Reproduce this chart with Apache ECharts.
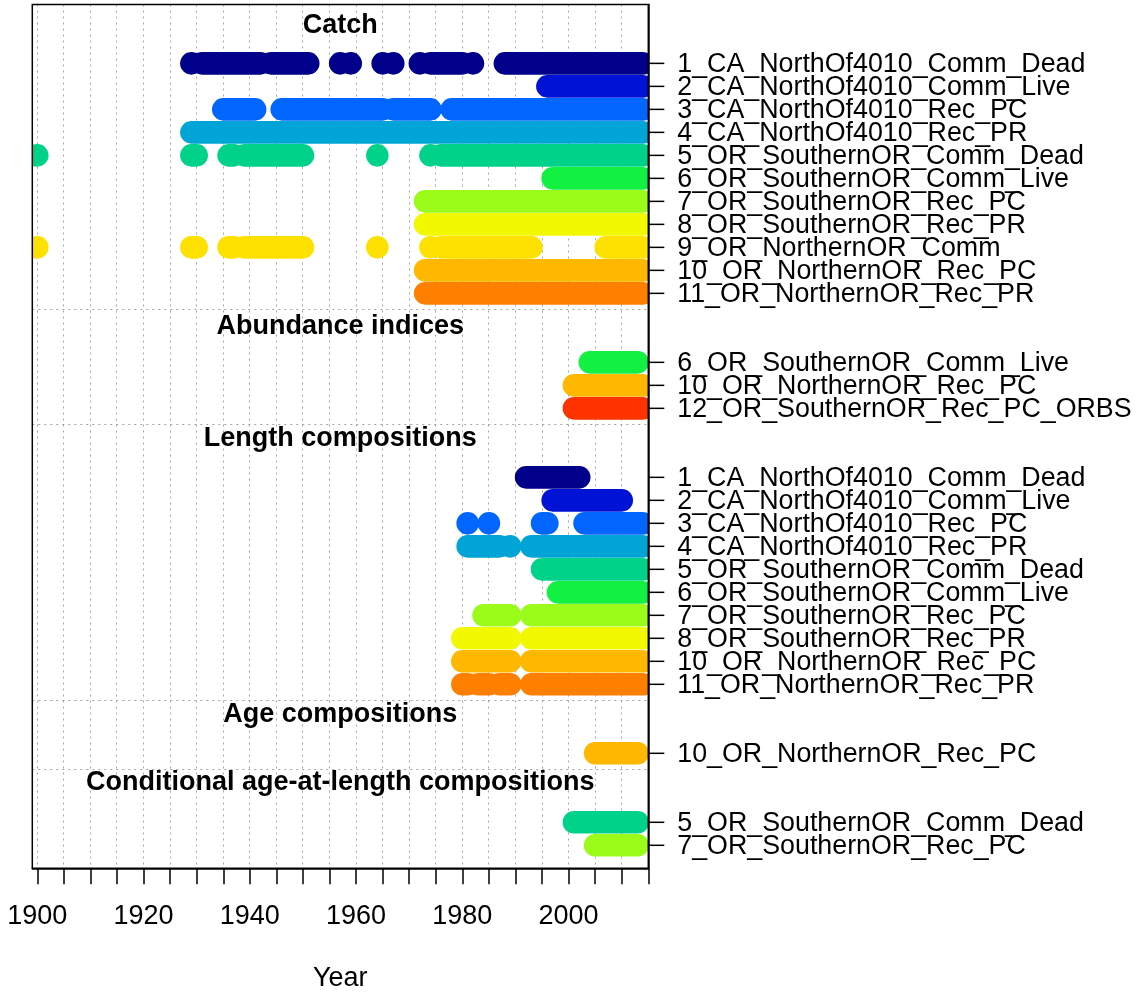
<!DOCTYPE html>
<html><head><meta charset="utf-8">
<script src="https://cdn.jsdelivr.net/npm/echarts@6/dist/echarts.min.js"></script>
<style>html,body{margin:0;padding:0;background:#fff;overflow:hidden}#c{width:1140px;height:995px}</style>
</head><body><div id="c"></div>
<script>
// ---------- data ----------
const fleetNames = ['1_CA_NorthOf4010_Comm_Dead','2_CA_NorthOf4010_Comm_Live','3_CA_NorthOf4010_Rec_PC',
  '4_CA_NorthOf4010_Rec_PR','5_OR_SouthernOR_Comm_Dead','6_OR_SouthernOR_Comm_Live','7_OR_SouthernOR_Rec_PC',
  '8_OR_SouthernOR_Rec_PR','9_OR_NorthernOR_Comm','10_OR_NorthernOR_Rec_PC','11_OR_NorthernOR_Rec_PR',
  '12_OR_SouthernOR_Rec_PC_ORBS'];
const fleetColors = ['#00008A','#0012D6','#0066FF','#00A4D6','#00D28A','#12F042','#9BFB19','#F2F800',
  '#FFE100','#FFB700','#FF8000','#FF3300'];

const groupNames = ['Catch','Abundance indices','Length compositions','Age compositions',
  'Conditional age-at-length compositions'];
const groupFleets = [
  [1,2,3,4,5,6,7,8,9,10,11],
  [6,10,12],
  [1,2,3,4,5,6,7,8,10,11],
  [10],
  [5,7]
];
// year ranges [first, last] with data, one list per fleet row
const catchYears = [
  [[1929,1929],[1931,1942],[1944,1951],[1957,1957],[1959,1959],[1965,1965],[1967,1967],[1972,1972],[1974,1980],[1982,1982],[1988,2014]],
  [[1996,2014]],
  [[1935,1941],[1946,1965],[1967,1974],[1978,2014]],
  [[1929,2014]],
  [[1900,1900],[1929,1930],[1936,1937],[1939,1950],[1964,1964],[1974,1974],[1976,2014]],
  [[1997,2014]],
  [[1973,2014]],
  [[1973,2014]],
  [[1900,1900],[1929,1930],[1936,1937],[1939,1950],[1964,1964],[1974,1974],[1976,1993],[2007,2014]],
  [[1973,2014]],
  [[1973,2014]]
];
const indexYears = [
  [[2004,2013]],
  [[2001,2014]],
  [[2001,2014]]
];
const lengthYears = [
  [[1992,2002]],
  [[1997,2010]],
  [[1981,1981],[1985,1985],[1995,1996],[2003,2014]],
  [[1981,1987],[1989,1989],[1993,2014]],
  [[1995,2014]],
  [[1998,2014]],
  [[1984,1989],[1993,2014]],
  [[1980,1989],[1993,2014]],
  [[1980,1989],[1993,2014]],
  [[1980,1981],[1983,1985],[1987,1989],[1993,2014]]
];
const ageYears = [
  [[2005,2013]]
];
const condYears = [
  [[2001,2013]],
  [[2005,2013]]
];
const groupYears = [catchYears, indexYears, lengthYears, ageYears, condYears];

const xTickYears = [1900,1905,1910,1915,1920,1925,1930,1935,1940,1945,1950,1955,1960,1965,1970,1975,1980,1985,1990,1995,2000,2005,2010,2015];
const xLabelYears = [1900,1920,1940,1960,1980,2000];

// ---------- layout of rows (axis values) ----------
const X_MIN = 1899.06, X_MAX = 2015, Y_MIN = 0, Y_MAX = 37.56;
const headerOffset = [1.63, 1.56, 1.7, 1.68, 1.74];
const rowY = [], rowLabel = {}, segData = [], headerData = [], sepData = [];
let y = 1;
for (let g = groupNames.length - 1; g >= 0; g--) {
  const fl = groupFleets[g];
  let top = y;
  for (let i = fl.length - 1; i >= 0; i--) {
    rowY.push(y);
    rowLabel[y] = fleetNames[fl[i] - 1];
    groupYears[g][i].forEach(s => segData.push([s[0], s[1], y, fl[i] - 1]));
    top = y;
    y++;
  }
  headerData.push([(X_MIN + X_MAX) / 2, top + headerOffset[g], g]);
  if (g > 0) sepData.push(top + 2.3);
  y += 2;
}

const FONT = '"Liberation Sans", Arial, sans-serif';
const chart = echarts.init(document.getElementById('c'), null, {renderer: 'canvas', width: 1140, height: 995});
const R = 11.3;
const snap = v => Math.round(v - 0.5) + 0.5;
chart.setOption({
  animation: false,
  backgroundColor: '#fff',
  grid: {left: 32.3, right: 491.7, top: 4.5, bottom: 126.7, show: false, containLabel: false, outerBoundsMode: 'none'},
  xAxis: {
    type: 'value', min: X_MIN, max: X_MAX,
    name: 'Year', nameLocation: 'middle', nameGap: 97,
    nameTextStyle: {fontFamily: FONT, fontSize: 27, color: '#000'},
    axisLine: {show: true, lineStyle: {color: '#000', width: 1.5}},
    axisTick: {show: true, inside: false, length: 16, customValues: xTickYears, lineStyle: {color: '#000', width: 1.5}},
    axisLabel: {show: true, customValues: xLabelYears, margin: 35, fontFamily: FONT, fontSize: 27, color: '#000',
      formatter: v => String(v)},
    splitLine: {show: false}
  },
  yAxis: {
    type: 'value', position: 'right', min: Y_MIN, max: Y_MAX,
    axisLine: {show: true, lineStyle: {color: '#000', width: 1.5}},
    axisTick: {show: false},
    axisLabel: {show: false},
    splitLine: {show: false}
  },
  series: [
    { // grid lines
      type: 'custom', z: 1, silent: true,
      data: xTickYears.map(v => [v, 0, 0]).concat(sepData.map(v => [0, v, 1])),
      renderItem: (params, api) => {
        const cs = params.coordSys;
        const isH = api.value(2) === 1;
        let shape;
        if (!isH) {
          const p = api.coord([api.value(0), Y_MIN]);
          const x = snap(p[0]);
          shape = {x1: x, y1: cs.y, x2: x, y2: cs.y + cs.height};
        } else {
          const p = api.coord([X_MIN, api.value(1)]);
          const yy = snap(p[1]);
          shape = {x1: cs.x, y1: yy, x2: cs.x + cs.width, y2: yy};
        }
        return {type: 'line', shape, style: {stroke: '#a4a4a4', lineWidth: 1, lineDash: [2, 4]}};
      }
    },
    { // data availability bars
      type: 'custom', z: 2, clip: true, silent: true,
      data: segData,
      renderItem: (params, api) => {
        const p1 = api.coord([api.value(0), api.value(2)]);
        const p2 = api.coord([api.value(1), api.value(2)]);
        return {type: 'rect',
          shape: {x: p1[0] - R, y: p1[1] - R, width: p2[0] - p1[0] + 2 * R, height: 2 * R, r: R},
          style: {fill: fleetColors[api.value(3)]}};
      }
    },
    { // group headers
      type: 'custom', z: 3, silent: true,
      data: headerData,
      renderItem: (params, api) => {
        const p = api.coord([api.value(0), api.value(1)]);
        return {type: 'text', x: p[0], y: p[1],
          style: {text: groupNames[api.value(2)], fontFamily: FONT, fontSize: 27, fontWeight: 'bold',
            fill: '#000', align: 'center', verticalAlign: 'middle'}};
      }
    },
    { // right-hand axis ticks and fleet labels
      type: 'custom', z: 4, silent: true,
      data: rowY.map(v => [X_MAX, v]),
      renderItem: (params, api) => {
        const cs = params.coordSys;
        const p = api.coord([X_MAX, api.value(1)]);
        const x0 = cs.x + cs.width;
        return {type: 'group', children: [
          {type: 'line', shape: {x1: x0, y1: p[1], x2: x0 + 16, y2: p[1]},
            style: {stroke: '#000', lineWidth: 1.5}},
          {type: 'text', x: x0 + 29, y: p[1] + 1,
            style: {text: rowLabel[api.value(1)], fontFamily: FONT, fontSize: 26.8, fill: '#000',
              align: 'left', verticalAlign: 'middle'}}
        ]};
      }
    },
    { // plot box
      type: 'custom', z: 5, silent: true,
      data: [[X_MIN, Y_MIN]],
      renderItem: (params, api) => {
        const cs = params.coordSys;
        return {type: 'rect', shape: {x: cs.x, y: cs.y, width: cs.width, height: cs.height},
          style: {fill: null, stroke: '#000', lineWidth: 1.5}};
      }
    }
  ]
});
</script>
</body></html>
